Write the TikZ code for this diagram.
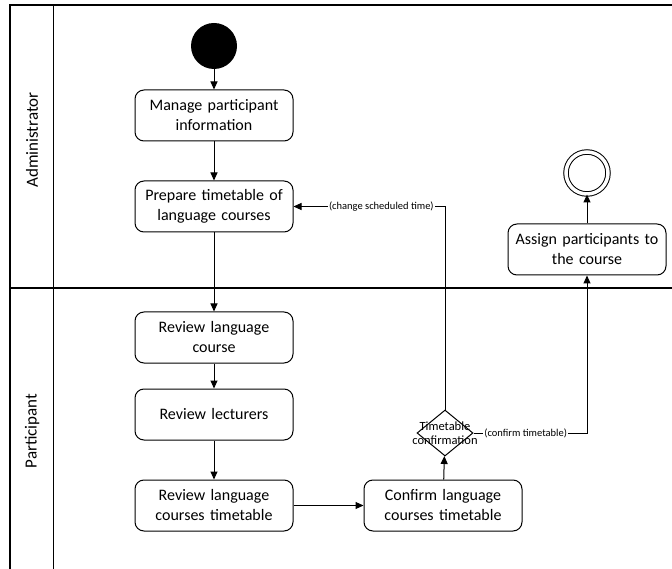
\documentclass[tikz,border=0pt]{standalone}
\usepackage{fontspec}
\setmainfont{Carlito}
\usetikzlibrary{positioning,arrows.meta,shapes.geometric}

\begin{document}
\begin{tikzpicture}[x=1pt, y=-1pt, line width=1pt,
    every node/.style={font=\fontsize{16}{20}\selectfont},
    action/.style={draw, rounded corners=9pt, minimum width=158pt,
                   minimum height=51pt, align=center, text width=150pt},
    flow/.style={-{Triangle[length=8pt,width=7pt]}},
    guard/.style={font=\fontsize{10.5}{12}\selectfont, fill=white, inner sep=1pt},
    lane/.style={rotate=90, font=\fontsize{17}{20}\selectfont}]
    \useasboundingbox (0,0) rectangle (672,569);
    % swimlanes
    \draw[line width=1.4pt] (10,569) -- (10,5) -- (672,5);
    \draw (53,5) -- (53,569);
    \draw[line width=1.6pt] (10,288) -- (672,288);
    \node[lane] (admin) at (32,140) {Administrator};
    \node[lane] (part) at (32,431) {Participant};
    % activities
    \node[circle, fill=black, minimum size=46pt] (start) at (214,46) {};
    \node[action] (manage) at (214,115.5) {Manage participant\\information};
    \node[action] (prepare)[below=39pt of manage] {Prepare timetable of\\language courses};
    \node[action] (revcourse) at (214,337.5) {Review language\\course};
    \node[action] (revlect)[below=25pt of revcourse] {Review lecturers};
    \node[action] (revtime)[below=39pt of revlect] {Review language\\courses timetable};
    \node[action] (confirm)[right=70pt of revtime] {Confirm language\\courses timetable};
    \node[diamond, draw, minimum width=56pt, minimum height=46pt, inner sep=0pt]
        (check) at (445,433) {};
    \node[font=\fontsize{12.5}{14}\selectfont, align=center] (checklbl) at (check) {Timetable\\confirmation};
    \node[action] (assign) at (587,249.5) {Assign participants to\\the course};
    \node[circle, draw, double, double distance=3.5pt, minimum size=42pt] (end) at (587,173) {};
    % flows
    \draw[flow] (start) -- (manage);
    \draw[flow] (manage) -- (prepare);
    \draw[flow] (prepare) -- (revcourse);
    \draw[flow] (revcourse) -- (revlect);
    \draw[flow] (revlect) -- (revtime);
    \draw[flow] (revtime) -- (confirm);
    \draw[flow] (confirm) -- (check);
    \draw[flow] (check.north) |- node[guard, pos=0.71] {(change scheduled time)} (prepare.east);
    \draw[flow] (check.east) -| node[guard, pos=0.23] {(confirm timetable)} (assign.south);
    \draw[flow] (assign) -- (end);
\end{tikzpicture}
\end{document}
